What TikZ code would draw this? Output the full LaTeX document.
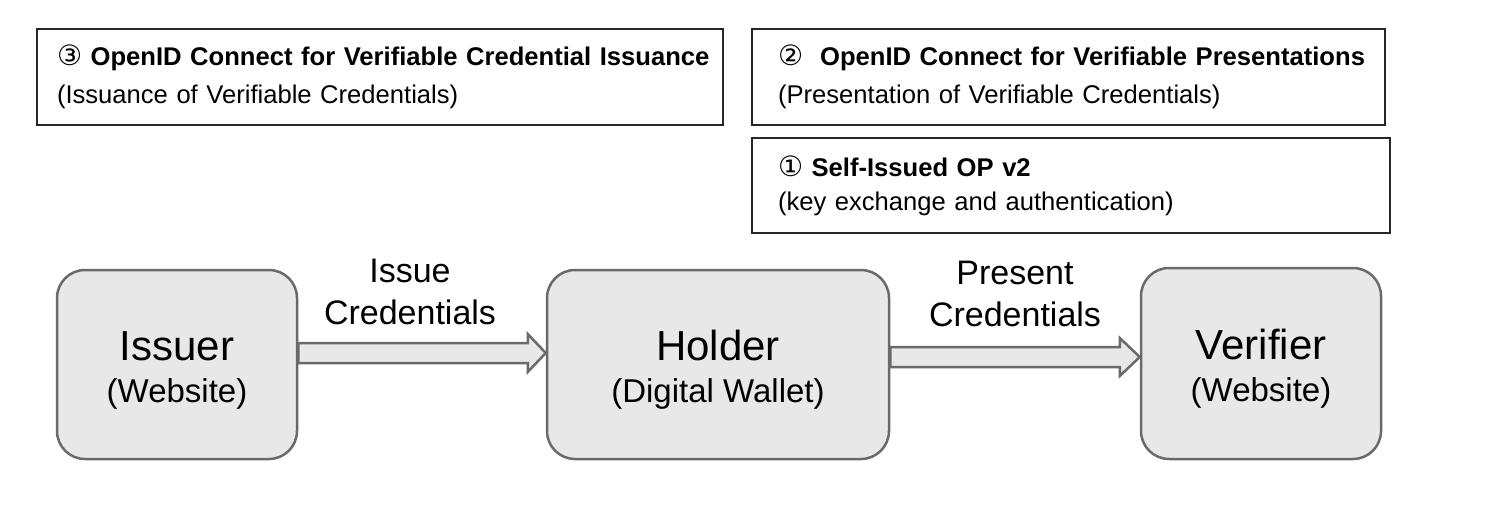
\documentclass[tikz,border=0pt]{standalone}
\usepackage{fontspec}
\setmainfont{Liberation Sans}
\newfontfamily\symfont{DejaVu Sans}
\usetikzlibrary{calc}
\definecolor{boxfill}{HTML}{E8E8E8}
\definecolor{boxline}{HTML}{6A6A6A}
\tikzset{
  actor/.style={draw=boxline, line width=2.5pt, fill=boxfill, rounded corners=28pt, align=center, inner sep=0pt, font=\fontsize{33}{42}\selectfont},
  spec/.style={draw=black!85, line width=1.4pt, align=left, inner ysep=0pt, font=\fontsize{25.6}{38}\selectfont},
  fatarrow/.style={draw=boxline, line width=2.5pt, fill=boxfill, line join=miter},
  lbl/.style={align=center, font=\fontsize{34}{42}\selectfont, inner sep=0pt}
}
\newcommand{\circnum}[1]{{\symfont\fontsize{28}{30}\selectfont #1}}
\newcommand{\bigname}[1]{{\fontsize{42}{42}\selectfont\rule{0pt}{41pt}#1}}
\begin{document}
\begin{tikzpicture}[x=1pt,y=-1pt]
\useasboundingbox (0,0) rectangle (1490,514);
% spec boxes
\node[spec, minimum width=686pt, minimum height=96pt, text width=646pt, inner xsep=20pt] (s3) at (380,77)
  {\mbox{\circnum{③} \textbf{OpenID Connect for Verifiable Credential Issuance}}\\(Issuance of Verifiable Credentials)};
\node[spec, minimum width=633pt, minimum height=96pt, text width=581pt, inner xsep=26pt] (s2) at (1068.5,77)
  {\mbox{\circnum{②}\ \ \textbf{OpenID Connect for Verifiable Presentations}}\\(Presentation of Verifiable Credentials)};
\node[spec, minimum width=638pt, minimum height=95pt, text width=586pt, inner xsep=26pt, font=\fontsize{25.6}{34}\selectfont] (s1) at (1071,185.5)
  {\circnum{①} \textbf{Self-Issued OP v2}\\(key exchange and authentication)};
% actors
\node[actor, minimum width=240pt, minimum height=189pt] (issuer) at (177,364.5)
  {\bigname{Issuer}\\(Website)};
\node[actor, minimum width=342pt, minimum height=189pt] (holder) at (718,364.5)
  {\bigname{Holder}\\(Digital Wallet)};
\node[actor, minimum width=240pt, minimum height=191pt] (verifier) at (1261,363.5)
  {\bigname{Verifier}\\(Website)};
% arrows
\coordinate (a1) at ($(issuer.east)+(0,-11.5)$);
\coordinate (b1) at ($(holder.west)+(0,-11.5)$);
\draw[fatarrow] ($(a1)+(0,-10)$) -- ($(b1)+(-18,-10)$) -- ($(b1)+(-18,-19)$) -- (b1)
  -- ($(b1)+(-18,19)$) -- ($(b1)+(-18,10)$) -- ($(a1)+(0,10)$) -- cycle;
\coordinate (a2) at ($(holder.east)+(0,-7.5)$);
\coordinate (b2) at (verifier.west |- a2);
\draw[fatarrow] ($(a2)+(0,-10)$) -- ($(b2)+(-20,-10)$) -- ($(b2)+(-20,-19)$) -- (b2)
  -- ($(b2)+(-20,19)$) -- ($(b2)+(-20,10)$) -- ($(a2)+(0,10)$) -- cycle;
% labels
\node[lbl] (l1) at (410,292) {Issue\\Credentials};
\node[lbl] (l2) at (1015,294) {Present\\Credentials};
\end{tikzpicture}
\end{document}
